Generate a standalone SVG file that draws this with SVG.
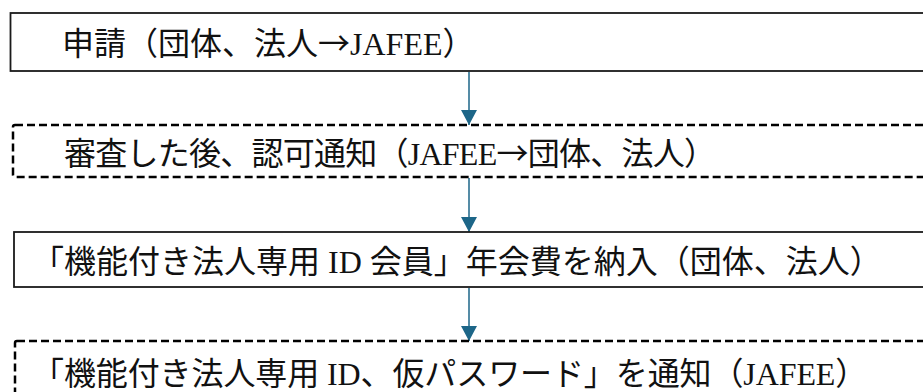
<svg xmlns="http://www.w3.org/2000/svg" width="923" height="392" viewBox="0 0 923 392">
<style>
.box{fill:#ffffff;stroke:#1a1a1a;stroke-width:1.8}
.dash{fill:#ffffff;stroke:#000000;stroke-width:2.5;stroke-dasharray:8 4}
.lbl{font-family:'Liberation Serif','Noto Sans CJK JP',serif;font-size:32px;fill:#111111}
.cjk{font-family:'Noto Sans CJK JP',sans-serif}
.conn{stroke:#1d6688;stroke-width:1.5;fill:none}
</style>
<defs>
<marker id="ah" viewBox="0 0 15 16" refX="15" refY="8" markerWidth="15" markerHeight="16" markerUnits="userSpaceOnUse" orient="auto">
<path d="M0,0 L15,8 L0,16 z" fill="#1d6688"/>
</marker>
</defs>
<rect width="923" height="392" fill="#ffffff"/>
<g id="connectors">
<line class="conn" x1="469" y1="72" x2="469" y2="125" marker-end="url(#ah)"/>
<line class="conn" x1="469" y1="178" x2="469" y2="232" marker-end="url(#ah)"/>
<line class="conn" x1="469" y1="288" x2="469" y2="341" marker-end="url(#ah)"/>
</g>
<g id="node1">
<rect class="box" x="10.5" y="13" width="930" height="58"/>
<text class="lbl" x="62" y="55">申請（団体、法人<tspan class="cjk">→</tspan>JAFEE）</text>
</g>
<g id="node2">
<rect class="dash" x="13" y="125" width="930" height="52" rx="2"/>
<text class="lbl" x="64" y="165" letter-spacing="-0.75">審査した後、認可通知（JAFEE<tspan class="cjk">→</tspan>団体、法人）</text>
</g>
<g id="node3">
<rect class="box" x="14" y="232" width="930" height="55"/>
<text class="lbl" x="32" y="273" letter-spacing="0">「機能付き法人専用 ID 会員」年会費を納入（団体、法人）</text>
</g>
<g id="node4">
<rect class="dash" x="15" y="341" width="930" height="60" rx="2"/>
<text class="lbl" x="32" y="385" letter-spacing="-0.1">「機能付き法人専用 ID、仮パスワード」を通知（JAFEE）</text>
</g>
</svg>
